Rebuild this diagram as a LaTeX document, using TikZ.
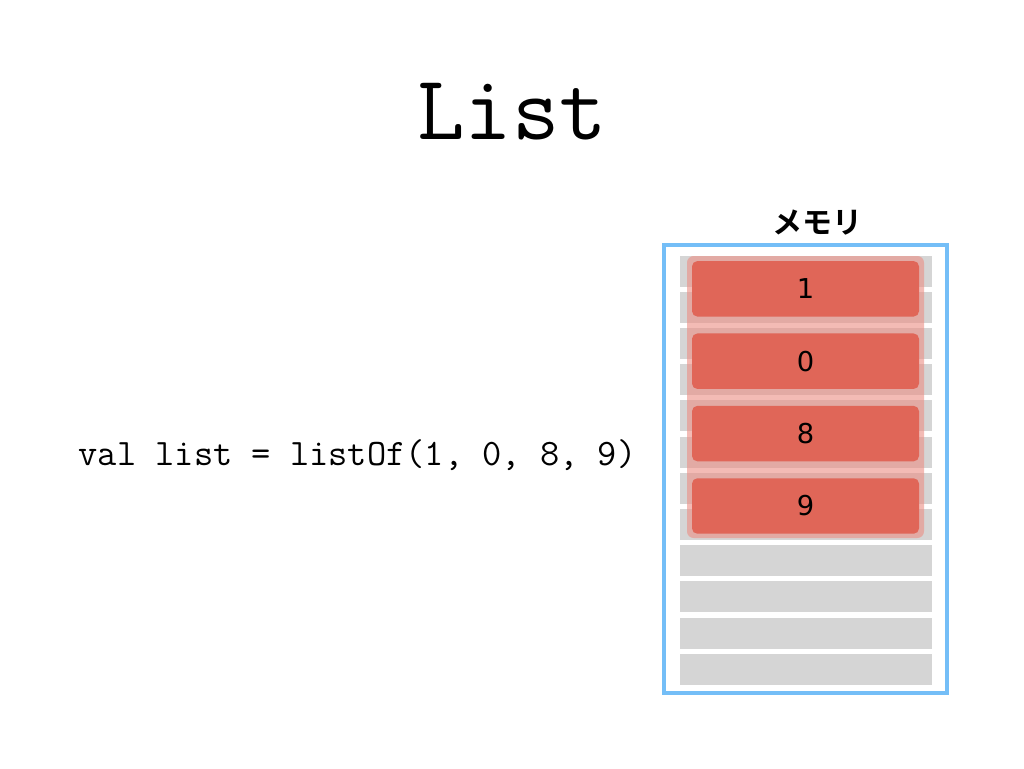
\documentclass[tikz,border=0pt]{standalone}
\usepackage{fontspec}
\newfontfamily\numfont{DejaVu Sans}
\newfontfamily\cjkfont{Noto Sans CJK JP}[BoldFont={* Bold}]
\definecolor{framecol}{HTML}{74BEF7}
\definecolor{rowgray}{HTML}{D5D5D5}
\definecolor{cellred}{HTML}{E06658}
\definecolor{grouppink}{HTML}{EC8E84}
\begin{document}
\begin{tikzpicture}[x=0.75pt,y=-0.75pt,
  rowbox/.style={fill=rowgray},
  cellbox/.style={fill=cellred,rounded corners=4pt,inner sep=0pt,minimum width=170.25pt,minimum height=41.6pt,font=\numfont\fontsize{20.5}{24}\selectfont},
  groupbox/.style={fill=grouppink,fill opacity=0.6,rounded corners=5pt}]
\useasboundingbox[fill=white] (0,0) rectangle (1024,768);
\node[font=\ttfamily\fontsize{69}{72}\selectfont] (title) at (512,112) {List};
\node[font=\ttfamily\fontsize{28}{30}\selectfont,anchor=west] (code) at (74,455) {val list = listOf(1, 0, 8, 9)};
\node[font=\cjkfont\bfseries\fontsize{22.5}{26}\selectfont] (memlabel) at (817,223) {メモリ};
\foreach \i in {0,...,11}{
  \fill[rowgray] (680,{255.5+36.2*\i}) rectangle (932,{286.5+36.2*\i});
}
\fill[groupbox] (687,256) rectangle (924,538);
\foreach \v [count=\k from 0] in {1,0,8,9}{
  \node[cellbox] (cell\k) at (805.5,{288.8+72.4*\k}) {\v};
}
\draw[framecol,line width=2.5pt] (664,245) rectangle (947,693);
\end{tikzpicture}
\end{document}
